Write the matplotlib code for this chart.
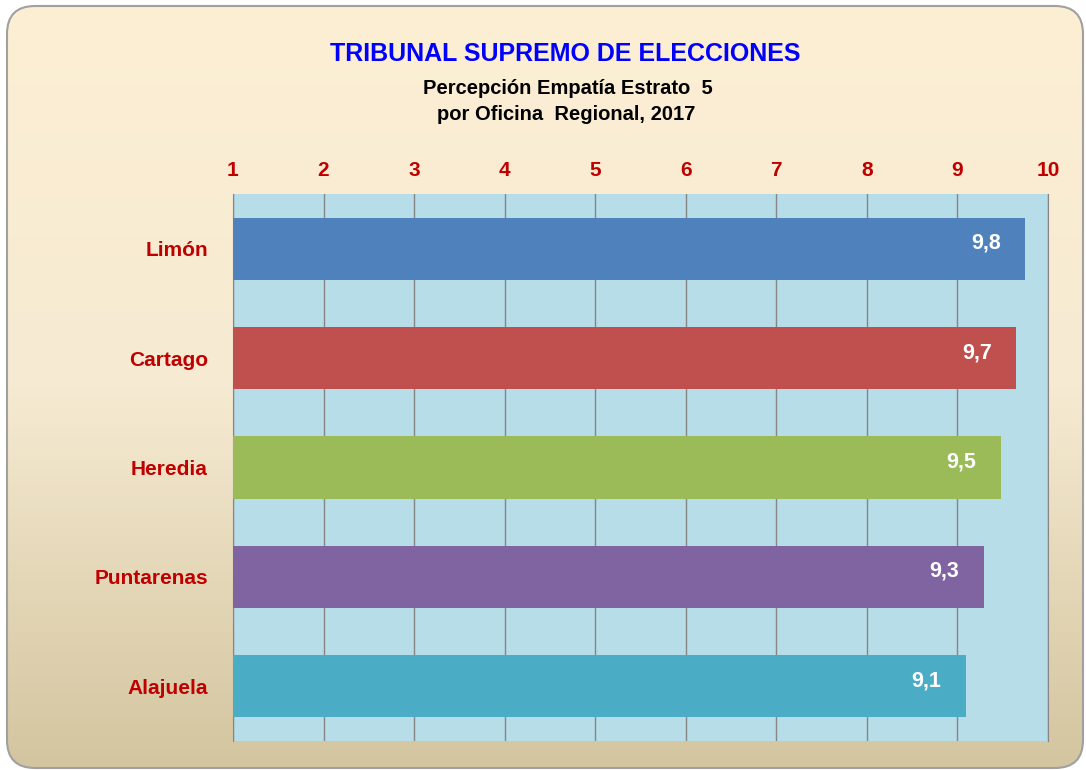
import numpy as np
import matplotlib
matplotlib.use("Agg")
from matplotlib import pyplot as plt
from matplotlib.patches import FancyBboxPatch
from matplotlib.colors import LinearSegmentedColormap

plt.rcParams['font.family'] = ['Liberation Sans', 'DejaVu Sans']

# data
regions = ["Limón", "Cartago", "Heredia", "Puntarenas", "Alajuela"]
values = [9.75, 9.65, 9.48, 9.29, 9.09]
labels = ["9,8", "9,7", "9,5", "9,3", "9,1"]
colors = ["#4F81BD", "#C0504D", "#9BBB59", "#8064A2", "#4BACC6"]
ticks = [1, 2, 3, 4, 5, 6, 7, 8, 9, 10]

red = "#C00000"

fig = plt.figure(figsize=(10.86, 7.7), dpi=100)

# background with rounded frame and vertical gradient
bg = fig.add_axes([0, 0, 1, 1])
bg.set_xlim(0, 1086)
bg.set_ylim(770, 0)
bg.axis("off")
frame = FancyBboxPatch((7, 6), 1076, 762, boxstyle="round,pad=0,rounding_size=28",
                       facecolor="none", edgecolor="#A0A0A0", linewidth=1.5, zorder=2)
bg.add_patch(frame)
cmap = LinearSegmentedColormap.from_list("bg", ["#FCEFD4", "#F6EAD2", "#D3C59F"])
grad = np.linspace(0, 1, 256).reshape(-1, 1)
im = bg.imshow(grad, cmap=cmap, extent=[7, 1083, 768, 6], aspect="auto", zorder=0)
im.set_clip_path(frame)

bg.text(565, 54, "TRIBUNAL SUPREMO DE ELECCIONES", color="#0000FF", fontsize=18,
        fontweight="bold", ha="center", va="center")
bg.text(568, 88, "Percepción Empatía Estrato  5", color="black", fontsize=14.5,
        fontweight="bold", ha="center", va="center")
bg.text(566, 114, "por Oficina  Regional, 2017", color="black", fontsize=14.5,
        fontweight="bold", ha="center", va="center")

ax = fig.add_axes([233 / 1086, 1 - 741 / 770, (1048 - 233) / 1086, (741 - 194) / 770])
ax.set_facecolor("#B7DDE8")
y = np.arange(len(regions))
ax.barh(y, [v - 1 for v in values], left=1, height=0.57, color=colors, zorder=3)
for yi, v, lab in zip(y, values, labels):
    ax.text(v - 0.27, yi - 0.05, lab, color="white", fontsize=15.5, fontweight="bold",
            ha="right", va="center", zorder=4)

ax.set_xlim(1, 10)
ax.set_ylim(len(regions) - 0.5, -0.5)
ax.set_xticks(ticks)
ax.xaxis.tick_top()
ax.tick_params(axis="x", length=0, pad=10, labelcolor=red, labelsize=15)
for t in ax.get_xticklabels():
    t.set_fontweight("bold")
ax.set_yticks(y)
ax.set_yticklabels(regions)
ax.tick_params(axis="y", length=0, pad=18, labelcolor=red, labelsize=15)
for t in ax.get_yticklabels():
    t.set_fontweight("bold")
ax.grid(axis="x", color="#868686", linewidth=1, zorder=1)
ax.set_axisbelow(True)
for s in ["top", "bottom"]:
    ax.spines[s].set_visible(False)
ax.spines["left"].set_color("#868686")
ax.spines["right"].set_color("#868686")

fig.savefig("out.png", dpi=100)
